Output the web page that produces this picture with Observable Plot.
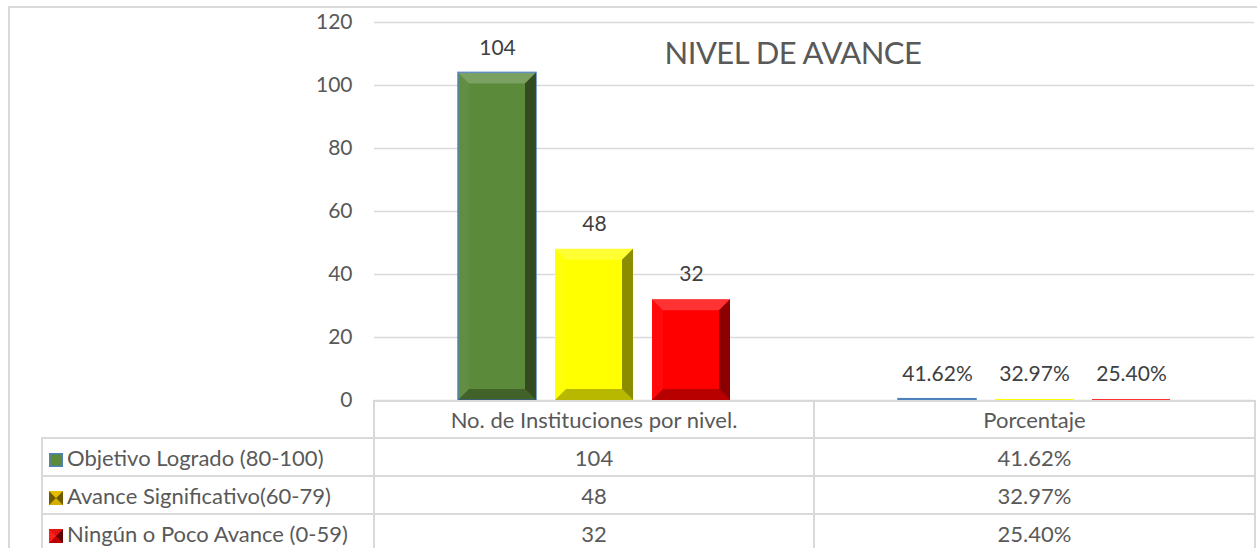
<!DOCTYPE html>
<html>
<head>
<meta charset="utf-8">
<script src="https://cdn.jsdelivr.net/npm/d3@7"></script>
<script src="https://cdn.jsdelivr.net/npm/@observablehq/plot@0.6"></script>
<style>
  html, body { margin: 0; padding: 0; background: #fff; }
  body { font-family: Lato, "Noto Sans", sans-serif; color: #595959; }
  #wrap { position: relative; width: 1257px; height: 548px; overflow: hidden; }
  #frame { position: absolute; left: 8px; top: 6px; width: 1300px; height: 600px; border: 2px solid #d9d9d9; box-sizing: border-box; }
  #chart { position: absolute; left: 0; top: 0; }
  #title { position: absolute; top: 33px; left: 543px; width: 500px; text-align: center; font-size: 31px; letter-spacing: -0.5px; color: #595959; white-space: nowrap; }
  #table { position: absolute; left: 41px; top: 400px; border-collapse: collapse; table-layout: fixed; font-size: 22px; color: #595959; }
  #table td { border: 2px solid #d9d9d9; padding: 0; text-align: center; white-space: nowrap; }
  #table tr.head td { height: 35px; }
  #table tr.row td { height: 36px; }
  #table td.corner { border-top: none; border-left: none; }
  #table td.name { text-align: left; padding-left: 6px; }
  #table td.name svg { vertical-align: -1px; margin-right: 4px; }
</style>
</head>
<body>
<div id="wrap">
  <div id="frame"></div>
  <div id="chart"></div>
  <div id="title"></div>
  <table id="table"></table>
</div>
<script>
// ---- data ----
const chartTitle = "NIVEL DE AVANCE";
const categories = ["No. de Instituciones por nivel.", "Porcentaje"];
const series = ["Objetivo Logrado (80-100)", "Avance Significativo(60-79)", "Ningún o Poco Avance (0-59)"];
const institutions = [104, 48, 32];
const percentages = [0.4162, 0.3297, 0.2540];
const yTicks = [0, 20, 40, 60, 80, 100, 120];

// ---- styles ----
const fillColors = ["#5b8a3b", "#ffff00", "#ff0000"];
const strokeColors = ["#4f81bd", "none", "none"];
const fmtPct = d3.format(".2%");

const rows = categories.flatMap((c, ci) => series.map((s, si) => ({
  category: c,
  series: s,
  value: ci === 0 ? institutions[si] : percentages[si],
  label: ci === 0 ? String(institutions[si]) : fmtPct(percentages[si]),
  fill: fillColors[si],
  stroke: strokeColors[si]
})));

const plot = Plot.plot({
  width: 1257,
  height: 400,
  marginLeft: 373,
  marginRight: 3,
  marginTop: 22,
  marginBottom: 0,
  style: { fontFamily: "Lato, 'Noto Sans', sans-serif", fontSize: "21px", color: "#595959", background: "transparent", overflow: "visible" },
  fx: { domain: categories, paddingInner: 0, paddingOuter: 0, axis: null, label: null },
  x: { domain: series, paddingInner: 0.2, paddingOuter: 0.85, axis: null, label: null },
  y: { domain: [0, 120], ticks: yTicks, label: null },
  marks: [
    Plot.gridY(yTicks, { stroke: "#d9d9d9", strokeOpacity: 1, strokeWidth: 1.5 }),
    Plot.axisY(yTicks, { tickSize: 0, tickPadding: 22, fontSize: 21, fill: "#595959", facetAnchor: "left" }),
    Plot.barY(rows, { fx: "category", x: "series", y: "value", fill: "fill", stroke: "stroke", strokeWidth: 1.5, className: "bevelbars" }),
    Plot.text(rows, { fx: "category", x: "series", y: "value", text: "label", dy: -25, fontSize: 21, fill: "#404040" })
  ]
});

// 3D bevel effect derived from the rendered bars
d3.select(plot).selectAll("g.bevelbars rect").each(function () {
  const r = d3.select(this);
  const x = +r.attr("x"), y = +r.attr("y"), w = +r.attr("width"), h = +r.attr("height");
  const b = Math.max(0, Math.min(11, h / 2, w / 2));
  if (b < 1) return;
  const g = d3.select(this.parentNode);
  const poly = (pts, fill, op) => g.append("polygon")
    .attr("points", pts.map(p => p.join(",")).join(" "))
    .attr("fill", fill).attr("fill-opacity", op);
  poly([[x, y], [x + w, y], [x + w - b, y + b], [x + b, y + b]], "#fff", 0.2);
  poly([[x, y], [x + b, y + b], [x + b, y + h - b], [x, y + h]], "#fff", 0.04);
  poly([[x + w, y], [x + w, y + h], [x + w - b, y + h - b], [x + w - b, y + b]], "#000", 0.45);
  poly([[x, y + h], [x + w, y + h], [x + w - b, y + h - b], [x + b, y + h - b]], "#000", 0.28);
});

document.getElementById("chart").appendChild(plot);
document.getElementById("title").textContent = chartTitle;

// ---- data table below the plot ----
function keySvg(i) {
  const s = 14;
  const c = fillColors[i];
  if (i === 0) {
    return `<svg width="${s}" height="${s}"><rect x="0.75" y="0.75" width="${s - 1.5}" height="${s - 1.5}" fill="${c}" stroke="#4f81bd" stroke-width="1.5"/></svg>`;
  }
  const base = i === 1 ? "#d4ad00" : "#c00000";
  const dark = i === 1 ? "#6e5a00" : "#600000";
  const light = i === 1 ? "#f0c800" : "#ff2020";
  return `<svg width="${s}" height="${s}">
    <rect x="0" y="0" width="${s}" height="${s}" fill="${base}"/>
    <polygon points="0,0 ${s / 2},${s / 2} 0,${s}" fill="${i === 1 ? dark : light}"/>
    <polygon points="${s},0 ${s / 2},${s / 2} ${s},${s}" fill="${dark}"/>
    <polygon points="0,0 ${s},0 ${s / 2},${s / 2}" fill="${light}" fill-opacity="0.6"/>
  </svg>`;
}

const table = document.getElementById("table");
const colgroup = `<colgroup><col style="width:332px"><col style="width:440px"><col style="width:441px"></colgroup>`;
let html = colgroup + `<tr class="head"><td class="corner"></td>` + categories.map(c => `<td>${c}</td>`).join("") + `</tr>`;
series.forEach((s, i) => {
  html += `<tr class="row"><td class="name">${keySvg(i)}${s}</td><td>${institutions[i]}</td><td>${fmtPct(percentages[i])}</td></tr>`;
});
table.innerHTML = html;
</script>
</body>
</html>
